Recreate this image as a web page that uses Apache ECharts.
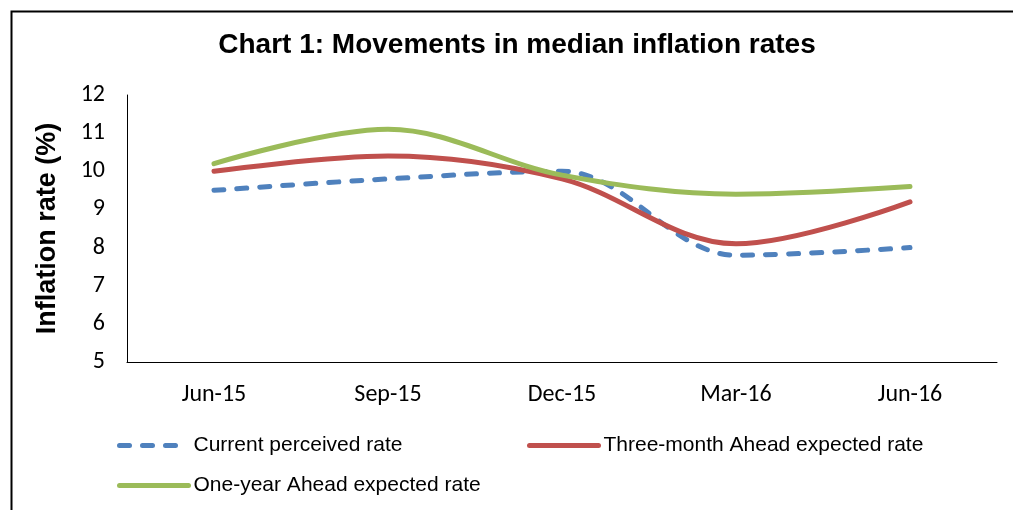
<!DOCTYPE html>
<html>
<head>
<meta charset="utf-8">
<script src="https://cdn.jsdelivr.net/npm/echarts@6/dist/echarts.min.js"></script>
<style>
  html, body { margin: 0; padding: 0; background: #fff; }
  #chart { width: 1013px; height: 510px; }
</style>
</head>
<body>
<div id="chart"></div>
<script>
// data
var months = ['Jun-15', 'Sep-15', 'Dec-15', 'Mar-16', 'Jun-16'];
var currentRate = [9.5, 9.8, 10.0, 7.8, 8.0];
var threeMonthRate = [10.0, 10.4, 9.8, 8.1, 9.2];
var oneYearRate = [10.2, 11.1, 9.9, 9.4, 9.6];
var seriesNames = ['Current perceived rate', 'Three-month Ahead expected rate', 'One-year Ahead expected rate'];

(function() {
  var blue = '#4F81BD', red = '#C0504D', green = '#9BBB59';
  var tickFont = 'Carlito, Lato, "Open Sans", sans-serif';
  var textFont = '"Liberation Sans", Arial, sans-serif';

  var chart = echarts.init(document.getElementById('chart'), null, { renderer: 'canvas' });

  function legendAt(name, left, top) {
    return {
      data: [name],
      left: left, top: top,
      padding: 0,
      itemWidth: 69, itemHeight: 20, itemGap: 0,
      itemStyle: { opacity: 0 },
      lineStyle: { width: 5, cap: 'round' },
      textStyle: { color: '#000', fontSize: 21, fontFamily: textFont },
      selectedMode: false
    };
  }

  chart.setOption({
    animation: false,
    graphic: [
      {
        type: 'rect', left: 9, top: 9, silent: true,
        shape: { width: 1100, height: 600 },
        style: { fill: 'none', stroke: '#000', lineWidth: 2 }
      },
      {
        type: 'text', x: 517, y: 45,
        style: {
          text: 'Chart 1: Movements in median inflation rates',
          font: 'bold 28px ' + textFont,
          fill: '#000', align: 'center', verticalAlign: 'middle'
        }
      }
    ],
    grid: { left: 127, right: 16, top: 95, bottom: 148 },
    legend: [
      legendAt(seriesNames[0], 117, 435),
      legendAt(seriesNames[1], 527, 435),
      legendAt(seriesNames[2], 117, 475)
    ],
    xAxis: {
      type: 'category',
      data: months,
      boundaryGap: true,
      axisLine: { lineStyle: { color: '#000', width: 1 } },
      axisTick: { show: false },
      axisLabel: { color: '#000', fontSize: 24, fontFamily: tickFont, margin: 21 }
    },
    yAxis: {
      type: 'value',
      min: 5, max: 12, interval: 1,
      name: 'Inflation rate (%)',
      nameLocation: 'middle',
      nameRotate: 90,
      nameGap: 66,
      nameTextStyle: { color: '#000', fontSize: 27, fontWeight: 'bold', fontFamily: textFont },
      axisLine: { show: true, lineStyle: { color: '#000', width: 1 } },
      axisTick: { show: false },
      splitLine: { show: false },
      axisLabel: { color: '#000', fontSize: 24, fontFamily: tickFont, margin: 22 }
    },
    series: [
      {
        name: seriesNames[0], type: 'line', data: currentRate,
        smooth: 0.35, symbol: 'none',
        lineStyle: { color: blue, width: 5, type: [10, 13], cap: 'round' },
        itemStyle: { color: blue }
      },
      {
        name: seriesNames[1], type: 'line', data: threeMonthRate,
        smooth: 0.35, symbol: 'none',
        lineStyle: { color: red, width: 5, cap: 'round' },
        itemStyle: { color: red }
      },
      {
        name: seriesNames[2], type: 'line', data: oneYearRate,
        smooth: 0.35, symbol: 'none',
        lineStyle: { color: green, width: 5, cap: 'round' },
        itemStyle: { color: green }
      }
    ]
  });
  window.addEventListener('resize', function() { chart.resize(); });
})();
</script>
</body>
</html>
